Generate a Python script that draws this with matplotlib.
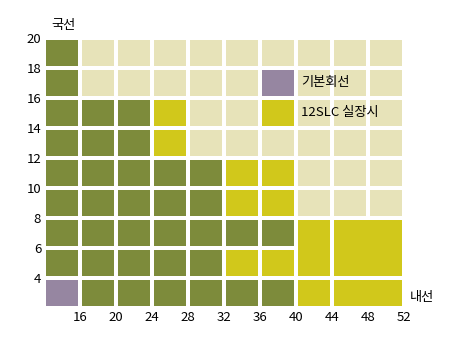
import matplotlib
matplotlib.use('Agg')
import matplotlib.pyplot as plt

plt.rcParams['font.family'] = ['Noto Sans CJK KR', 'DejaVu Sans']

# x: 내선 (internal lines), y: 국선 (trunk lines)
x_edges = [12, 16, 20, 24, 28, 32, 36, 40, 44, 48, 52]
y_edges = [2, 4, 6, 8, 10, 12, 14, 16, 18, 20]
x_ticks = [16, 20, 24, 28, 32, 36, 40, 44, 48, 52]
y_ticks = [4, 6, 8, 10, 12, 14, 16, 18, 20]

# cell codes, rows from bottom (2-4) to top (18-20)
grid = [
    "PGGGGGGYYY",
    "GGGGGYYYYY",
    "GGGGGGGYYY",
    "GGGGGYYBBB",
    "GGGGGYYBBB",
    "GGGYBBBBBB",
    "GGGYBBYBBB",
    "GBBBBBPBBB",
    "GBBBBBBBBB",
]
# merged blocks (x0, x1, y0, y1)
merged = [(40, 44, 4, 8), (44, 52, 4, 8), (44, 52, 2, 4)]

colors = {'G': '#7d8b3b', 'B': '#e7e3b9', 'Y': '#d1c81b', 'P': '#9686a1'}

fig = plt.figure(figsize=(4.5, 3.53), dpi=100)
ax = fig.add_axes([44 / 450, 1 - 308 / 353, 360 / 450, 270 / 353])

# white gap of ~4px between cells
dx = 2 / 9
dy = 2 / 15


def in_merged(x0, y0):
    for mx0, mx1, my0, my1 in merged:
        if mx0 <= x0 < mx1 and my0 <= y0 < my1:
            return True
    return False


for r, row in enumerate(grid):
    y0, y1 = y_edges[r], y_edges[r] + 2
    for c, code in enumerate(row):
        x0, x1 = x_edges[c], x_edges[c + 1]
        if in_merged(x0, y0):
            continue
        ax.bar(x0 + dx, y1 - y0 - 2 * dy, width=x1 - x0 - 2 * dx, bottom=y0 + dy,
               align='edge', color=colors[code], linewidth=0)

for mx0, mx1, my0, my1 in merged:
    ax.bar(mx0 + dx, my1 - my0 - 2 * dy, width=mx1 - mx0 - 2 * dx, bottom=my0 + dy,
           align='edge', color=colors['Y'], linewidth=0)

ax.set_xlim(12, 52)
ax.set_ylim(2, 20)
for s in ax.spines.values():
    s.set_visible(False)
ax.set_xticks(x_ticks)
ax.set_yticks(y_ticks)
ax.set_xticklabels([str(v) for v in x_ticks], fontsize=9.5)
ax.set_yticklabels([str(v) for v in y_ticks], fontsize=9.5)
ax.tick_params(length=0, pad=2)

ax.text(40.6, 17.05, '기본회선', fontsize=9.5, va='center', ha='left')
ax.text(40.6, 15.05, '12SLC 실장시', fontsize=9.5, va='center', ha='left')

fig.text(63 / 450, 1 - 25 / 353, '국선', fontsize=9.5, ha='center', va='center')
fig.text(422 / 450, 1 - 298 / 353, '내선', fontsize=9.5, ha='center', va='center')

fig.savefig('out.png', dpi=100)
